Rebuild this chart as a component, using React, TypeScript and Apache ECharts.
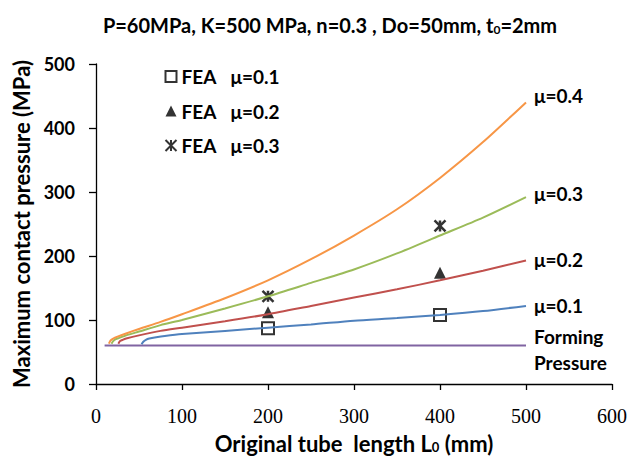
import React, { useEffect, useRef } from "react";
import * as echarts from "echarts";

const xTicks = [0, 100, 200, 300, 400, 500, 600];
const yTicks = [0, 100, 200, 300, 400, 500];

const xMu04 = [15, 17, 20, 25, 35, 50, 75, 100, 150, 200, 250, 300, 350, 400, 450, 500];
const yMu04 = [63, 68, 71, 74, 79, 86, 97, 109, 134, 162, 195, 232, 273, 322, 378, 440];

const xMu03 = [18, 20, 23, 27, 35, 50, 75, 100, 150, 200, 250, 300, 350, 400, 450, 500];
const yMu03 = [63, 67, 70, 72, 76, 82, 92, 100, 118, 137, 158, 179, 204, 232, 260, 292];

const xMu02 = [26, 28, 31, 35, 50, 75, 100, 150, 200, 250, 300, 350, 400, 450, 500];
const yMu02 = [63, 67, 69, 71, 76, 83, 88, 98, 109, 122, 135, 148, 162, 177, 193];

const xMu01 = [53, 55, 58, 62, 70, 80, 100, 150, 200, 250, 300, 350, 400, 450, 500];
const yMu01 = [62, 66, 69, 71, 73, 75, 78, 83, 88, 93, 99, 103, 108, 114, 122];

const xForming = [10, 500];
const yForming = [60, 60];

const xFea = [200, 400];
const yFea01 = [87, 108];
const yFea02 = [112, 174];
const yFea03 = [137, 247];

const curveLabels = ["μ=0.4", "μ=0.3", "μ=0.2", "μ=0.1", "Forming\nPressure"];
const feaNames = ["FEA μ=0.1", "FEA μ=0.2", "FEA μ=0.3"];

const SANS = "Lato";
const pair = (xs: number[], ys: number[]) => xs.map((x, i) => [x, ys[i]]);
const bold = (size: number, extra: any = {}) => ({
  fontFamily: SANS,
  fontWeight: "bold",
  fontSize: size,
  color: "#000",
  ...extra,
});

export default function App() {
  const ref = useRef<HTMLDivElement>(null);
  useEffect(() => {
    if (!ref.current) return;
    const chart = echarts.init(ref.current, null, { renderer: "svg" });
    const lineSeries = (
      name: string,
      xs: number[],
      ys: number[],
      color: string,
      label: string,
      offsetY: number
    ) => ({
      type: "line",
      name,
      data: pair(xs, ys),
      showSymbol: false,
      smooth: 0.25,
      lineStyle: { color, width: 2 },
      itemStyle: { color },
      silent: true,
      endLabel: {
        show: true,
        formatter: label,
        distance: 8,
        offset: [0, offsetY],
        ...bold(19),
        lineHeight: 26,
        align: "left",
      },
    });
    const markerBase = { type: "scatter", silent: true };
    chart.setOption({
      animation: false,
      backgroundColor: "#fff",
      title: {
        text: "{n|P=60MPa, K=500 MPa, n=0.3 , Do=50mm, t}{sub|0}{n|=2mm}",
        left: 325,
        top: 10,
        textAlign: "center",
        textStyle: {
          ...bold(20),
          rich: {
            n: bold(20),
            sub: bold(12, { padding: [8, 0, 0, 0] }),
          },
        },
      },
      legend: {
        orient: "vertical",
        left: 158,
        top: 62,
        itemWidth: 11,
        itemHeight: 11,
        itemGap: 15.5,
        data: feaNames,
        formatter: (n: string) => `{a|FEA}{b|${n.replace("FEA ", "")}}`,
        textStyle: {
          ...bold(19),
          rich: {
            a: bold(19, { width: 49, lineHeight: 20 }),
            b: bold(19, { lineHeight: 20 }),
          },
        },
      },
      grid: { left: 96, right: 23, top: 64, bottom: 76, outerBoundsMode: "none" },
      xAxis: {
        type: "value",
        min: xTicks[0],
        max: xTicks[xTicks.length - 1],
        interval: 100,
        name: "{n|Original tube  length L}{sub|0}{n| (mm)}",
        nameLocation: "middle",
        nameGap: 47,
        nameTextStyle: {
          ...bold(22),
          rich: {
            n: bold(22, { lineHeight: 24 }),
            sub: bold(13, { padding: [7, 0, 0, 0], lineHeight: 24 }),
          },
        },
        axisLine: { show: true, lineStyle: { color: "#000", width: 1.3 } },
        axisTick: { show: true, length: 6, lineStyle: { color: "#000", width: 1.3 } },
        axisLabel: { fontFamily: "Liberation Serif", fontSize: 20, color: "#000", margin: 22 },
        splitLine: { show: false },
      },
      yAxis: {
        type: "value",
        min: yTicks[0],
        max: yTicks[yTicks.length - 1],
        interval: 100,
        name: "Maximum contact pressure (MPa)",
        nameLocation: "middle",
        nameGap: 60,
        nameTextStyle: bold(22),
        axisLine: { show: true, lineStyle: { color: "#000", width: 1.3 } },
        axisTick: { show: true, length: 7, lineStyle: { color: "#000", width: 1.3 } },
        axisLabel: { ...bold(18), margin: 21 },
        splitLine: { show: false },
      },
      series: [
        lineSeries("Forming", xForming, yForming, "#8064A2", curveLabels[4], 4),
        lineSeries("mu01", xMu01, yMu01, "#4F81BD", curveLabels[3], 0),
        lineSeries("mu02", xMu02, yMu02, "#C0504D", curveLabels[2], -1),
        lineSeries("mu03", xMu03, yMu03, "#9BBB59", curveLabels[1], -4),
        lineSeries("mu04", xMu04, yMu04, "#F79646", curveLabels[0], -7),
        {
          ...markerBase,
          name: feaNames[0],
          data: pair(xFea, yFea01),
          symbol: "rect",
          symbolSize: 12,
          itemStyle: { color: "#fff", borderColor: "#000", borderWidth: 2 },
        },
        {
          ...markerBase,
          name: feaNames[1],
          data: pair(xFea, yFea02),
          symbol: "triangle",
          symbolSize: 12,
          itemStyle: { color: "#000" },
        },
        {
          ...markerBase,
          name: feaNames[2],
          data: pair(xFea, yFea03),
          symbol: "path://M0,0L10,10M10,0L0,10M5,0L5,10",
          symbolSize: 11,
          itemStyle: { color: "none", borderColor: "#000", borderWidth: 2.5 },
        },
      ],
    });
    return () => chart.dispose();
  }, []);
  return (
    <div
      ref={ref}
      style={{ position: "absolute", left: 0, top: 0, width: 635, height: 460 }}
    />
  );
}
